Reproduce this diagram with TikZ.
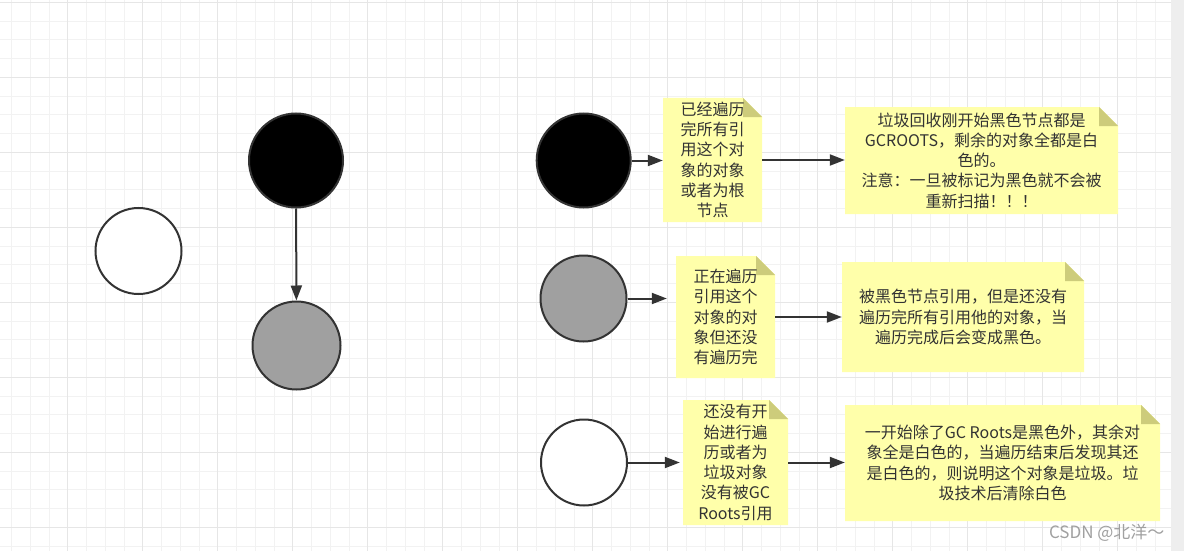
\documentclass[tikz,border=0pt]{standalone}
\usepackage{fontspec}
\setmainfont{Noto Sans CJK SC}
\usetikzlibrary{arrows.meta}
\definecolor{gridminor}{HTML}{F2F2F2}
\definecolor{gridmajor}{HTML}{E6E6E6}
\definecolor{sidegray}{HTML}{EEEEEE}
\definecolor{notefill}{HTML}{FFFFAA}
\definecolor{notefold}{HTML}{CDCC7B}
\definecolor{edgegray}{HTML}{333333}
\definecolor{midgray}{HTML}{A0A0A0}
\definecolor{marktext}{HTML}{A0A0A0}
\newcommand{\foldlen}{19pt}
\tikzset{circnode/.style = {circle, draw=edgegray, line width=2pt, inner sep=0}}
\tikzset{arr/.style = {draw=edgegray, line width=2pt,
                       -{Triangle[length=15pt,width=11pt]}}}
\tikzset{note/.style = {draw=none, inner sep=0, align=center, text=edgegray,
    font=\fontsize{16}{20.3}\selectfont,
    path picture={
      \fill[notefill] (path picture bounding box.south west)
        -- (path picture bounding box.north west)
        -- ([xshift=-\foldlen]path picture bounding box.north east)
        -- ([yshift=-\foldlen]path picture bounding box.north east)
        -- (path picture bounding box.south east) -- cycle;
      \fill[notefold] ([xshift=-\foldlen]path picture bounding box.north east)
        -- ([xshift=-\foldlen,yshift=-\foldlen]path picture bounding box.north east)
        -- ([yshift=-\foldlen]path picture bounding box.north east) -- cycle;
    }}}

\begin{document}
\begin{tikzpicture}[x=1pt, y=-1pt]
  \useasboundingbox (0,0) rectangle (1184,551);
  \fill[white] (0,0) rectangle (1184,551);
  % grid
  \foreach \k in {0,...,61}
    \draw[gridminor, line width=1pt] ({11.7+18.75*\k},0) -- ({11.7+18.75*\k},551);
  \foreach \k in {0,...,29}
    \draw[gridminor, line width=1pt] (0,{2.3+18.75*\k}) -- (1171,{2.3+18.75*\k});
  \foreach \k in {0,...,14}
    \draw[gridmajor, line width=1pt] ({67.7+75*\k},0) -- ({67.7+75*\k},551);
  \foreach \k in {0,...,7}
    \draw[gridmajor, line width=1pt] (0,{2.3+75*\k}) -- (1171,{2.3+75*\k});
  \fill[sidegray] (1171,0) rectangle (1184,551);

  % left example
  \node[circnode, fill=white, minimum size=86] (w0) at (138.5,251) {};
  \node[circnode, fill=black, minimum size=94] (b0) at (296,160.5) {};
  \node[circnode, fill=midgray, minimum size=88] (g0) at (296.5,345.5) {};
  \draw[arr] (b0) -- (g0);

  % legend
  \node[circnode, fill=black, minimum size=94] (b1) at (583.7,160.5) {};
  \node[circnode, fill=midgray, minimum size=86] (g1) at (583.5,298.5) {};
  \node[circnode, fill=white, minimum size=86] (w1) at (584,462.5) {};

  \node[note, minimum width=99, minimum height=124] (n1) at (712.5,160)
    {已经遍历\\完所有引\\用这个对\\象的对象\\或者为根\\节点};
  \node[note, minimum width=273, minimum height=107] (n2) at (981.5,160.5)
    {垃圾回收刚开始黑色节点都是\\GCROOTS，剩余的对象全都是白\\色的。\\注意：一旦被标记为黑色就不会被\\重新扫描！！！};
  \node[note, minimum width=99, minimum height=122] (n3) at (725.5,317)
    {正在遍历\\引用这个\\对象的对\\象但还没\\有遍历完};
  \node[note, minimum width=242, minimum height=110] (n4) at (963,317)
    {被黑色节点引用，但是还没有\\遍历完所有引用他的对象，当\\遍历完成后会变成黑色。};
  \node[note, minimum width=105, minimum height=125] (n5) at (735.5,462.5)
    {还没有开\\始进行遍\\历或者为\\垃圾对象\\没有被GC\\Roots引用};
  \node[note, minimum width=315, minimum height=116] (n6) at (1002.5,463)
    {一开始除了GC Roots是黑色外，其余对\\象全是白色的，当遍历结束后发现其还\\是白色的，则说明这个对象是垃圾。垃\\圾技术后清除白色};

  \draw[arr] (b1.east) -- (b1.east -| n1.west);
  \draw[arr] (n1.east) -- (n1.east -| n2.west);
  \draw[arr, shorten >=9pt] (g1.east) -- (g1.east -| n3.west);
  \draw[arr] (n3.east) -- (n3.east -| n4.west);
  \draw[arr, shorten >=3pt] (w1.east) -- (w1.east -| n5.west);
  \draw[arr] (n5.east) -- (n5.east -| n6.west);

  \node[anchor=east, text=marktext, font=\fontsize{17}{17}\selectfont]
    (mark) at (1168,533) {CSDN @北洋～};
\end{tikzpicture}
\end{document}
